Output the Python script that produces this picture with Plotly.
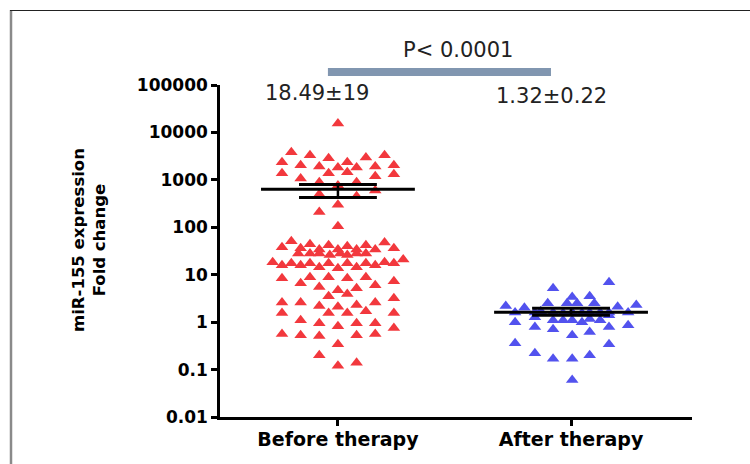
import plotly.graph_objects as go

categories = ["Before therapy", "After therapy"]
tick_values = [0.01, 0.1, 1, 10, 100, 1000, 10000, 100000]
tick_labels = ["0.01", "0.1", "1", "10", "100", "1000", "10000", "100000"]

# Before therapy: fold change values and horizontal jitter offsets
before_values = [15500, 3800, 3300, 2850, 2340, 2970, 3300, 2340, 2030, 1920,
                 1830, 1830, 1920, 2030, 1370, 1070, 1370, 1440, 1190, 1310,
                 890, 760, 890, 600, 495, 450, 300, 210, 105,
                 51, 38, 36, 44, 34, 42, 34, 40, 34, 42, 34, 48, 36,
                 28, 28, 28, 26, 28, 26, 28, 28,
                 18.3, 15.8, 17.4, 15.8, 17.4, 14.4, 17.4, 13.7, 17.4, 14.4,
                 17.4, 15.8, 18.3, 17.4, 21,
                 8.4, 6.6, 8.8, 5.5, 8.8, 4.7, 8.4, 5.2, 8.8, 6.0, 7.3,
                 3.5, 3.9, 2.6, 2.6, 2.2, 2.1, 2.3, 2.6, 3.2,
                 1.55, 1.55, 1.55, 1.7, 1.55,
                 1.1, 0.95, 0.82, 0.95, 0.95, 0.75,
                 0.56, 0.53, 0.51, 0.53, 0.56, 0.34, 0.2, 0.12, 0.14]
before_offset = [0.0, -0.2, -0.12, -0.04, 0.04, 0.12, 0.2, -0.24, -0.16, -0.08,
                 0.0, 0.08, 0.16, 0.24, -0.24, -0.16, -0.04, 0.04, 0.16, 0.24,
                 -0.08, 0.0, 0.08, 0.16, -0.08, 0.08, 0.0, -0.08, 0.0,
                 -0.2, -0.24, -0.16, -0.12, -0.08, -0.04, 0.0, 0.04, 0.08, 0.12, 0.16, 0.2, 0.24,
                 -0.17, -0.12, -0.08, -0.035, 0.01, 0.04, 0.08, 0.12,
                 -0.28, -0.24, -0.2, -0.16, -0.12, -0.08, -0.04, 0.0, 0.04, 0.08,
                 0.12, 0.16, 0.2, 0.24, 0.28,
                 -0.24, -0.16, -0.12, -0.08, -0.04, 0.0, 0.04, 0.08, 0.12, 0.16, 0.24,
                 -0.04, 0.04, -0.24, -0.16, -0.08, 0.0, 0.08, 0.16, 0.24,
                 -0.24, -0.04, 0.04, 0.12, 0.24,
                 -0.16, -0.08, 0.0, 0.08, 0.16, 0.24,
                 -0.24, -0.16, -0.08, 0.08, 0.16, 0.0, -0.08, 0.0, 0.08]

# After therapy
after_values = [6.9, 5.2, 3.4, 3.5, 2.5, 2.5, 2.5, 2.5, 2.2, 2.0, 2.1, 2.3,
                1.6, 1.6, 1.7, 1.6, 1.55, 1.6, 1.55, 1.6, 1.6, 1.6, 1.6,
                1.0, 1.27, 1.1, 1.1, 1.1, 1.0, 1.16, 1.1, 1.4,
                0.79, 0.71, 0.79, 0.86, 0.53, 0.62, 0.36, 0.34,
                0.22, 0.17, 0.17, 0.2, 0.06]
after_offset = [0.163, -0.077, 0.005, 0.08, -0.1, -0.017, 0.026, 0.1, -0.28, -0.2, 0.2, 0.28,
                -0.24, -0.155, -0.13, -0.077, -0.034, 0.005, 0.047, 0.08, 0.125, 0.163, 0.245,
                -0.24, -0.155, -0.077, -0.034, 0.005, 0.047, 0.08, 0.125, 0.163,
                -0.155, -0.077, 0.163, 0.245, 0.005, 0.08, -0.24, 0.163,
                -0.155, -0.077, 0.005, 0.08, 0.005]

# Mean and SEM (as drawn)
group_mean = [630, 1.62]
group_sem_low = [427, 1.4]
group_sem_high = [800, 1.97]
group_text = ["18.49±19", "1.32±0.22"]
p_text = "P< 0.0001"

red = "#f2383d"
blue = "#5252ee"

fig = go.Figure()
fig.add_trace(go.Scatter(
    x=[0 + o for o in before_offset], y=before_values, mode="markers",
    marker=dict(symbol="triangle-up", size=11, color=red), showlegend=False))
fig.add_trace(go.Scatter(
    x=[1 + o for o in after_offset], y=after_values, mode="markers",
    marker=dict(symbol="triangle-up", size=11, color=blue), showlegend=False))

for i in range(2):
    fig.add_trace(go.Scatter(x=[i - 0.33, i + 0.33], y=[group_mean[i]] * 2, mode="lines",
                             line=dict(color="black", width=3), showlegend=False))
    for v in (group_sem_low[i], group_sem_high[i]):
        fig.add_trace(go.Scatter(x=[i - 0.167, i + 0.167], y=[v, v], mode="lines",
                                 line=dict(color="black", width=3), showlegend=False))
    fig.add_trace(go.Scatter(x=[i, i], y=[group_sem_low[i], group_sem_high[i]], mode="lines",
                             line=dict(color="black", width=2.5), showlegend=False))

W, H = 750, 464
L, R, T, B = 220, 58, 85, 47
pw, ph = W - L - R, H - T - B

def px_x(p):
    return (p - L) / pw

def px_y(p):
    return (H - B - p) / ph

# significance bar
fig.add_shape(type="rect", xref="x", yref="paper", x0=-0.043, x1=0.914,
              y0=px_y(76), y1=px_y(68), fillcolor="#8196b0", line=dict(width=0))
# frame
fig.add_shape(type="line", xref="paper", yref="paper", x0=px_x(11), x1=px_x(11),
              y0=px_y(10), y1=px_y(470), line=dict(color="#8a8a8a", width=2.5))
fig.add_shape(type="line", xref="paper", yref="paper", x0=px_x(10), x1=px_x(760),
              y0=px_y(10.5), y1=px_y(10.5), line=dict(color="#222", width=1.2))

txtfont = dict(family="DejaVu Sans", size=21, color="#222")
fig.add_annotation(x=0.515, y=px_y(50), xref="x", yref="paper", text=p_text,
                   showarrow=False, font=txtfont, xanchor="center", yanchor="middle")
fig.add_annotation(x=-0.09, y=px_y(93), xref="x", yref="paper", text=group_text[0],
                   showarrow=False, font=txtfont, xanchor="center", yanchor="middle")
fig.add_annotation(x=0.918, y=px_y(96), xref="x", yref="paper", text=group_text[1],
                   showarrow=False, font=txtfont, xanchor="center", yanchor="middle")
fig.add_annotation(x=px_x(89), y=px_y(240), xref="paper", yref="paper",
                   text="miR-155 expression<br>Fold change", textangle=-90,
                   showarrow=False, xanchor="center", yanchor="middle",
                   font=dict(family="DejaVu Sans", size=16.5, color="black", weight="bold"))

fig.update_xaxes(range=[-0.506, 1.519], tickvals=[0, 1], ticktext=categories,
                 showline=True, linecolor="black", linewidth=2.5, ticks="outside",
                 ticklen=6, tickwidth=2.5, tickcolor="black", showgrid=False,
                 zeroline=False, ticklabelstandoff=-3,
                 tickfont=dict(family="DejaVu Sans", size=19, color="black", weight="bold"))
fig.update_yaxes(type="log", range=[-2, 5], tickvals=tick_values, ticktext=tick_labels,
                 showline=True, linecolor="black", linewidth=2.5, ticks="outside",
                 ticklen=6, tickwidth=2.5, tickcolor="black", showgrid=False,
                 zeroline=False,
                 tickfont=dict(family="DejaVu Sans", size=17, color="black", weight="bold"))
fig.update_layout(width=W, height=H, margin=dict(l=L, r=R, t=T, b=B),
                  plot_bgcolor="white", paper_bgcolor="white")
fig.write_html("out.html", config={"displayModeBar": False},
               post_script="document.body.style.margin='0';")
